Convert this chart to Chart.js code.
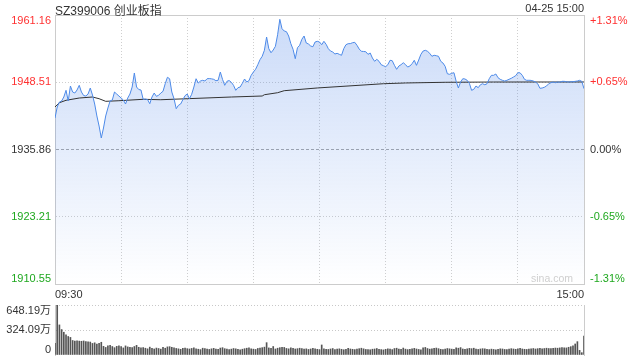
<!DOCTYPE html>
<html>
<head>
<meta charset="utf-8">
<script src="https://cdn.jsdelivr.net/npm/chart.js@4.4.1/dist/chart.umd.min.js"></script>
<style>
  html, body { margin: 0; padding: 0; background: #fff; }
  #wrap { position: relative; width: 640px; height: 360px; overflow: hidden;
          font-family: "Liberation Sans", Arial, "Noto Sans CJK SC", sans-serif; color: #333; }
  canvas { position: absolute; left: 0; }
  #price { top: 0; }
  #vol { top: 290px; }
  .txt { position: absolute; white-space: nowrap; }
</style>
</head>
<body>
<div id="wrap">
  <canvas id="price" width="640" height="300"></canvas>
  <canvas id="vol" width="640" height="70"></canvas>
  <div class="txt" id="title" style="left:55px; top:1px; font-size:12px;">SZ399006 创业板指</div>
  <div class="txt" id="stamp" style="right:56px; top:2px; font-size:11px;">04-25 15:00</div>
  <div class="txt" id="mark" style="right:67px; top:272px; font-size:10.5px; color:#cfcfcf;">sina.com</div>
</div>
<script>
// previous close and axis ticks
const prevClose = 1935.86;
const priceTicks = [1910.55, 1923.21, 1935.86, 1948.51, 1961.16];
const pctLabels = ['-1.31%', '-0.65%', '0.00%', '+0.65%', '+1.31%'];
const timeLabels = ['09:30', '15:00'];
const volTicks = [0, 324.09, 648.19];
const volLabels = ['0', '324.09万', '648.19万'];

// one price per minute, 09:30 .. 15:00 (241 points)
const prices = [
  1941.78, 1943.85, 1944.79, 1944.98, 1945.73, 1946.99, 1944.98, 1947.80, 1946.67, 1946.48,
  1947.05, 1947.93, 1946.67, 1946.01, 1945.92, 1946.29, 1947.42, 1946.11, 1944.41, 1942.16,
  1940.27, 1938.02, 1939.90, 1942.16, 1943.66, 1944.98, 1945.17, 1946.67, 1946.29, 1945.92,
  1945.54, 1945.17, 1944.41, 1945.54, 1946.29, 1947.61, 1950.25, 1947.61, 1947.14, 1947.05,
  1945.30, 1945.35, 1945.25, 1944.47, 1945.73, 1946.48, 1945.86, 1946.05, 1946.48, 1946.80,
  1948.23, 1949.44, 1949.17, 1946.67, 1945.41, 1943.53, 1944.17, 1944.41, 1945.22, 1945.98,
  1946.29, 1945.41, 1946.24, 1947.61, 1949.17, 1948.36, 1948.74, 1948.87, 1948.74, 1949.17,
  1949.20, 1949.15, 1949.06, 1948.80, 1948.87, 1950.43, 1949.06, 1947.93, 1948.68, 1948.83,
  1948.50, 1947.93, 1946.99, 1947.48, 1947.61, 1948.31, 1949.12, 1948.55, 1948.80, 1949.81,
  1950.43, 1950.94, 1951.81, 1952.75, 1953.39, 1954.52, 1957.02, 1954.82, 1954.06, 1954.57,
  1955.27, 1957.45, 1960.35, 1958.58, 1958.15, 1958.02, 1957.21, 1955.76, 1954.70, 1952.94,
  1955.01, 1955.46, 1956.59, 1957.21, 1955.89, 1955.70, 1955.33, 1955.19, 1956.08, 1956.21,
  1956.08, 1955.57, 1956.21, 1955.65, 1954.82, 1954.38, 1954.20, 1953.82, 1953.95, 1953.76,
  1953.58, 1954.82, 1955.57, 1955.76, 1955.78, 1955.95, 1956.02, 1955.46, 1954.76, 1954.33,
  1954.30, 1954.25, 1953.76, 1954.01, 1953.07, 1952.45, 1952.82, 1952.45, 1951.81, 1951.62,
  1951.43, 1951.81, 1952.64, 1952.56, 1951.69, 1950.94, 1951.56, 1951.81, 1952.18, 1951.84,
  1951.37, 1951.56, 1952.00, 1952.64, 1951.69, 1952.69, 1953.76, 1954.38, 1954.52, 1954.33,
  1953.95, 1953.39, 1953.58, 1953.50, 1953.39, 1952.45, 1952.13, 1951.51, 1950.11, 1950.00,
  1950.19, 1950.30, 1948.68, 1947.42, 1948.55, 1949.17, 1949.12, 1948.87, 1948.31, 1946.99,
  1947.18, 1947.80, 1947.48, 1948.04, 1948.23, 1948.04, 1948.23, 1949.17, 1949.81, 1949.81,
  1950.06, 1949.36, 1949.06, 1948.87, 1948.74, 1948.87, 1949.06, 1949.25, 1949.49, 1949.74,
  1950.30, 1950.28, 1949.81, 1949.06, 1948.87, 1948.88, 1948.86, 1948.74, 1948.55, 1948.23,
  1947.37, 1947.42, 1947.56, 1947.80, 1948.23, 1948.42, 1948.55, 1948.42, 1948.55, 1948.50,
  1948.68, 1948.68, 1948.61, 1948.55, 1948.61, 1948.61, 1948.68, 1948.74, 1948.87, 1948.68,
  1947.29
];

// average price line, read at a few minutes
const avgMinutes = [0, 2, 5, 11, 17, 20, 23, 29, 40, 48, 60, 80, 94, 95, 101, 104, 119, 149, 159, 177, 199, 240];
const avgPrices = [1943.85, 1944.66, 1945.11, 1945.54, 1945.73, 1945.41, 1944.92, 1945.03, 1945.30, 1945.22,
                   1945.41, 1945.73, 1945.92, 1946.16, 1946.54, 1946.92, 1947.43, 1948.23, 1948.37, 1948.50,
                   1948.55, 1948.56];

// volume per minute, in 万
const volumes = [
  150, 648.19, 390, 330, 295, 262, 240, 228, 188, 182,
  185, 180, 178, 182, 175, 170, 168, 150, 158, 140,
  150, 165, 112, 98, 118, 125, 110, 95, 112, 120,
  108, 92, 118, 105, 98, 95, 110, 125, 100, 92,
  95, 88, 80, 102, 85, 78, 90, 84, 76, 98,
  88, 105, 108, 100, 92, 85, 80, 74, 86, 90,
  82, 78, 85, 92, 80, 75, 70, 88, 82, 76,
  72, 80, 86, 78, 74, 90, 95, 82, 78, 70,
  76, 84, 80, 72, 68, 75, 82, 88, 94, 80,
  76, 72, 85, 90, 95, 102, 160, 92, 85, 110,
  78, 88, 95, 100, 98, 85, 80, 92, 86, 78,
  82, 88, 84, 76, 80, 72, 78, 85, 80, 74,
  70, 130, 80, 75, 72, 78, 84, 70, 76, 80,
  74, 68, 72, 85, 78, 74, 70, 76, 82, 88,
  80, 72, 70, 68, 75, 78, 84, 72, 70, 66,
  74, 80, 76, 70, 84, 88, 78, 72, 90, 76,
  70, 74, 80, 86, 78, 72, 68, 92, 98, 84,
  76, 80, 86, 90, 82, 74, 70, 78, 84, 80,
  76, 72, 94, 88, 96, 78, 74, 80, 86, 82,
  88, 76, 72, 78, 82, 80, 74, 70, 76, 72,
  68, 74, 80, 78, 72, 70, 76, 82, 78, 74,
  80, 86, 78, 74, 72, 76, 80, 84, 78, 82,
  86, 80, 84, 88, 84, 82, 86, 90, 88, 92,
  96, 94, 92, 100, 108, 120, 143, 173, 60, 30,
  246
];

Chart.defaults.font.family = '"Liberation Sans", Arial, "Noto Sans CJK SC", sans-serif';
Chart.defaults.font.size = 11;
Chart.defaults.color = '#333';

const lastMinute = prices.length - 1;
const RED = '#ff3030', GREEN = '#1fa81f';

function tickColor(v) {
  if (v > prevClose + 0.001) return RED;
  if (v < prevClose - 0.001) return GREEN;
  return '#333';
}
// push the first/last label inside the plot, like the original
function edge(label, i, n) {
  if (i === n - 1) return ['', label];
  if (i === 0) return [label, ''];
  return label;
}
// fixed axis sizes, no extra room for overhanging labels
function fixWidth(w) {
  return (s) => { s.width = w; s.paddingTop = 0; s.paddingBottom = 0; };
}

function fillGrad(c) {
  const a = c.chart.chartArea;
  if (!a) return 'rgba(0,0,0,0)';
  const g = c.chart.ctx.createLinearGradient(0, a.top, 0, a.bottom);
  g.addColorStop(0, 'rgba(60,120,230,0.27)');
  g.addColorStop(1, 'rgba(60,120,230,0)');
  return g;
}

new Chart(document.getElementById('price'), {
  type: 'line',
  data: {
    datasets: [
      {
        data: prices.map((v, i) => ({ x: i, y: v })),
        borderColor: '#4d8ae8',
        borderWidth: 1,
        pointRadius: 0,
        tension: 0,
        fill: 'start',
        backgroundColor: fillGrad
      },
      {
        data: avgMinutes.map((m, i) => ({ x: m, y: avgPrices[i] })),
        borderColor: '#333',
        borderWidth: 1,
        pointRadius: 0,
        tension: 0,
        fill: false
      }
    ]
  },
  options: {
    responsive: false,
    animation: false,
    events: [],
    layout: { padding: { top: 15, left: 0, right: 0, bottom: 0 } },
    plugins: {
      legend: { display: false },
      tooltip: { enabled: false },
      filler: { drawTime: 'beforeDatasetsDraw' }
    },
    scales: {
      x: {
        type: 'linear',
        min: 0,
        max: lastMinute,
        ticks: {
          stepSize: 30,
          autoSkip: false,
          maxRotation: 0,
          align: 'inner',
          padding: 4,
          color: '#333',
          callback: (v) => v === 0 ? timeLabels[0] : (v === lastMinute ? timeLabels[1] : '')
        },
        grid: {
          drawTicks: false,
          color: (c) => (c.tick && (c.tick.value === 0 || c.tick.value === lastMinute)) ? 'rgba(0,0,0,0)' : '#cfcfcf'
        },
        border: { color: '#ccc', dash: [1, 2] },
        afterFit: (s) => { s.height = 16; s.paddingLeft = 0; s.paddingRight = 0; }
      },
      y: {
        position: 'left',
        min: priceTicks[0],
        max: priceTicks[priceTicks.length - 1],
        afterBuildTicks: (s) => { s.ticks = priceTicks.map(v => ({ value: v })); },
        ticks: {
          padding: 4,
          autoSkip: false,
          font: { lineHeight: 1 },
          color: (c) => tickColor(c.tick.value),
          callback: (v, i) => edge(priceTicks[i].toFixed(2), i, priceTicks.length)
        },
        grid: {
          drawTicks: false,
          color: (c) => {
            if (c.index === 0) return 'rgba(0,0,0,0)';
            if (c.index === priceTicks.length - 1) return '#ccc';
            if (c.index === 2) return '#a8a8a8';
            return '#cfcfcf';
          }
        },
        border: {
          color: '#ccc',
          dash: (c) => c.index === 2 ? [3, 2] : (c.index === priceTicks.length - 1 ? [] : [1, 2])
        },
        afterFit: fixWidth(55)
      },
      yr: {
        position: 'right',
        min: priceTicks[0],
        max: priceTicks[priceTicks.length - 1],
        afterBuildTicks: (s) => { s.ticks = priceTicks.map(v => ({ value: v })); },
        ticks: {
          padding: 6,
          autoSkip: false,
          font: { lineHeight: 1 },
          color: (c) => tickColor(c.tick.value),
          callback: (v, i) => edge(pctLabels[i], i, pctLabels.length)
        },
        grid: { display: false, drawTicks: false },
        border: { color: '#ccc' },
        afterFit: fixWidth(56)
      }
    }
  }
});

new Chart(document.getElementById('vol'), {
  type: 'bar',
  data: {
    datasets: [{
      data: volumes.map((v, i) => ({ x: i, y: v })),
      backgroundColor: '#555',
      borderWidth: 0,
      barThickness: 1
    }]
  },
  options: {
    responsive: false,
    animation: false,
    events: [],
    layout: { padding: { top: 15, left: 0, right: 0, bottom: 5 } },
    plugins: { legend: { display: false }, tooltip: { enabled: false } },
    scales: {
      x: {
        type: 'linear',
        min: 0,
        max: lastMinute,
        offset: false,
        display: false,
        grid: { offset: false }
      },
      y: {
        position: 'left',
        min: volTicks[0],
        max: volTicks[volTicks.length - 1],
        afterBuildTicks: (s) => { s.ticks = volTicks.map(v => ({ value: v })); },
        ticks: {
          padding: 4,
          autoSkip: false,
          font: { lineHeight: 1 },
          color: '#333',
          callback: (v, i) => edge(volLabels[i], i, volLabels.length)
        },
        grid: {
          drawTicks: false,
          color: (c) => c.index === 0 ? 'rgba(0,0,0,0)' : '#c8c8c8'
        },
        border: { color: '#ccc', dash: [1, 2] },
        afterFit: fixWidth(55)
      },
      y2: {
        position: 'right',
        min: volTicks[0],
        max: volTicks[volTicks.length - 1],
        ticks: { display: false },
        grid: { display: false, drawTicks: false },
        border: { color: '#ccc' },
        afterFit: fixWidth(56)
      }
    }
  }
});
</script>
</body>
</html>
